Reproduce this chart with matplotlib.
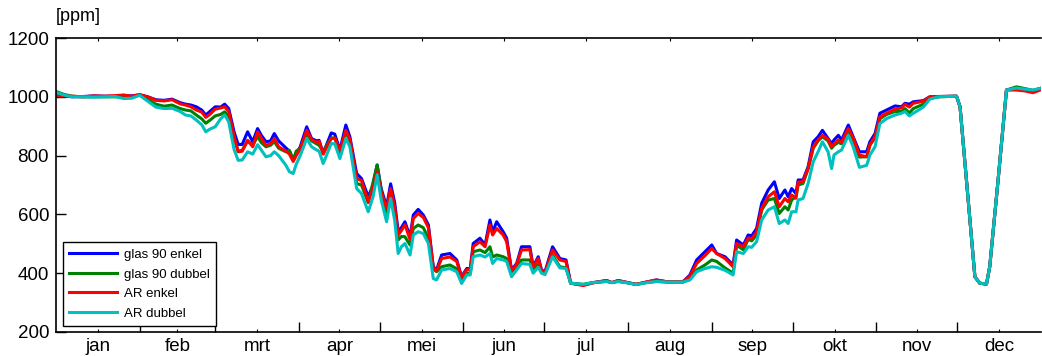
import numpy as np
from matplotlib import pyplot as plt

# dag van het jaar, CO2-concentratie per variant [ppm]
days = [0, 3, 6, 10, 14, 18, 22, 25, 28, 31, 34, 37, 40, 43, 46, 48, 50, 52, 54, 55.5,
        57, 59, 61, 62.5, 64, 66, 67.5, 69, 71, 72.9, 74.7, 76, 77.8, 79.5, 80.9, 82.5,
        85.2, 86.5, 87.9, 89, 90.5, 92.9, 94.7, 96.6, 97.5, 99, 102, 103.3, 105.2, 107.4,
        108.9, 111.4, 113.2, 115.7, 117.5, 119, 120.5, 122.5, 124, 125.5, 126.8, 128, 129.3,
        131.2, 132.4, 134.2, 136.1, 138, 139.8, 141, 142.9, 146, 148.5, 150.3, 152.2, 153.5,
        154.6, 157.1, 159, 160.8, 161.8, 163.3, 165.7, 167, 168.8, 170.7, 172.5, 175.6, 176.8,
        178.7, 179.9, 181.2, 184, 186.7, 189, 190.7, 195.4, 199, 204, 206, 208.3, 212, 215,
        218.8, 222.5, 226.3, 232.4, 234.9, 237.4, 240.5, 243, 244.8, 247.9, 250.9, 252.2,
        254.7, 256.5, 257.8, 259.6, 261.5, 263.9, 266.2, 268, 270.1, 271.3, 272.6, 274.2,
        275, 276.8, 278.7, 280.6, 282.4, 284, 286.1, 287.4, 288.3, 289.9, 291.1, 293.6,
        295.4, 297.7, 300.4, 301.6, 303.5, 305.3, 307.8, 310.9, 313.3, 314.6, 316.2, 317.7,
        321.4, 323.8, 327, 333.7, 335, 340.5, 342.3, 344.8, 346, 349.1, 352.2, 355.9, 359,
        362, 365]

glas90_enkel = [1008, 1003, 1000, 1001, 1003, 1002, 1002, 1005, 1003, 1007, 1000, 990, 988, 992,
                980, 975, 972, 966, 955, 938, 950, 966, 965, 975, 960, 880, 838, 838, 881, 847,
                892, 870, 847, 850, 875, 850, 826, 815, 785, 805, 830, 898, 858, 850, 852, 808,
                877, 873, 819, 904, 864, 739, 722, 660, 700, 768, 688, 626, 704, 640, 542, 555,
                575, 524, 598, 617, 598, 564, 422, 411, 462, 467, 445, 388, 416, 415, 501, 519,
                496, 581, 540, 575, 541, 519, 411, 433, 490, 490, 422, 456, 411, 405, 490, 450,
                445, 366, 360, 368, 375, 368, 375, 368, 362, 370, 377, 371, 371, 394, 445, 473,
                496, 467, 456, 428, 513, 496, 530, 527, 552, 638, 683, 711, 654, 683, 660, 688,
                671, 717, 717, 762, 847, 864, 886, 858, 841, 853, 869, 853, 904, 864, 813, 813,
                847, 875, 944, 955, 969, 966, 978, 975, 983, 987, 1000, 1001, 1002, 966, 388,
                366, 363, 422, 717, 1023, 1030, 1025, 1020, 1029]

glas90_dubbel = [1018, 1008, 1002, 1000, 1000, 1000, 1000, 1000, 998, 1006, 992, 975, 968, 972,
                 960, 955, 952, 938, 925, 910, 920, 935, 940, 949, 935, 860, 815, 818, 850, 835,
                 865, 845, 830, 835, 848, 825, 813, 818, 785, 815, 825, 875, 850, 840, 835, 815,
                 860, 860, 810, 880, 850, 705, 700, 640, 710, 768, 680, 605, 670, 610, 513, 525,
                 524, 496, 552, 564, 555, 519, 415, 405, 422, 428, 415, 375, 400, 400, 473, 479,
                 470, 490, 455, 462, 456, 450, 405, 420, 445, 445, 415, 430, 405, 400, 462, 422,
                 418, 366, 362, 368, 372, 368, 372, 367, 362, 368, 372, 370, 370, 380, 411, 428,
                 445, 440, 418, 400, 495, 480, 515, 510, 530, 615, 649, 654, 603, 626, 615, 649,
                 660, 700, 705, 755, 825, 850, 864, 850, 825, 835, 845, 840, 886, 855, 795, 796,
                 836, 860, 925, 940, 950, 950, 960, 945, 960, 975, 995, 1000, 1002, 966, 388,
                 366, 363, 422, 717, 1023, 1034, 1028, 1022, 1029]

ar_enkel = [1005, 1003, 1002, 1000, 1003, 1002, 1004, 1006, 1002, 1007, 1000, 988, 986, 990,
            976, 972, 966, 955, 948, 930, 940, 958, 962, 966, 950, 865, 813, 815, 852, 830,
            881, 860, 835, 840, 858, 830, 815, 805, 780, 800, 822, 886, 855, 845, 848, 805,
            858, 860, 815, 886, 855, 722, 715, 643, 690, 745, 675, 620, 688, 625, 530, 545,
            565, 515, 586, 603, 590, 555, 418, 408, 450, 455, 440, 385, 412, 412, 490, 507,
            490, 564, 530, 552, 530, 507, 408, 430, 479, 480, 420, 450, 408, 402, 479, 445,
            440, 366, 358, 367, 375, 368, 375, 368, 362, 370, 377, 371, 372, 390, 433, 460,
            484, 467, 450, 422, 501, 490, 520, 517, 540, 620, 660, 677, 626, 654, 643, 666,
            655, 710, 712, 755, 830, 853, 869, 855, 830, 840, 853, 845, 892, 860, 802, 796,
            836, 865, 932, 944, 958, 962, 975, 965, 978, 985, 1000, 1001, 1002, 966, 388,
            366, 363, 422, 717, 1023, 1023, 1020, 1014, 1024]

ar_dubbel = [1015, 1006, 1000, 1000, 999, 1000, 1001, 994, 995, 1005, 985, 965, 960, 961,
             950, 938, 935, 921, 905, 881, 890, 898, 925, 938, 915, 820, 784, 785, 813, 805,
             837, 820, 796, 800, 813, 800, 767, 745, 739, 770, 800, 858, 830, 819, 815, 773,
             841, 840, 790, 858, 830, 688, 671, 609, 660, 735, 650, 575, 654, 580, 467, 490,
             501, 462, 530, 541, 535, 501, 382, 377, 411, 416, 405, 365, 394, 394, 456, 462,
             455, 467, 433, 450, 445, 440, 388, 411, 433, 430, 400, 420, 400, 395, 456, 418,
             416, 366, 362, 368, 372, 368, 372, 367, 361, 368, 372, 370, 370, 377, 405, 416,
             422, 420, 410, 394, 473, 467, 490, 488, 507, 581, 615, 626, 569, 581, 569, 609,
             609, 649, 654, 705, 779, 813, 847, 813, 756, 802, 813, 819, 869, 830, 760, 767,
             802, 830, 909, 926, 938, 944, 950, 935, 944, 965, 992, 1000, 1002, 966, 388,
             366, 363, 422, 717, 1023, 1030, 1026, 1023, 1029]

series_names = ["glas 90 enkel", "glas 90 dubbel", "AR enkel", "AR dubbel"]
month_labels = ["jan", "feb", "mrt", "apr", "mei", "jun", "jul", "aug", "sep", "okt", "nov", "dec"]
month_starts = [0, 31, 59, 90, 120, 151, 181, 212, 243, 273, 304, 334, 365]


def co2_chart():
    plt.rcParams["font.family"] = ["Liberation Sans", "DejaVu Sans"]
    fig = plt.figure(figsize=(10.42, 3.56), dpi=100)
    ax = fig.add_axes([56 / 1042, 24 / 356, 985 / 1042, 294 / 356])

    colors = ["#0000ff", "#008000", "#ff0000", "#00c0c0"]
    values = [glas90_enkel, glas90_dubbel, ar_enkel, ar_dubbel]
    for name, vals, c in zip(series_names, values, colors):
        ax.plot(days, vals, color=c, lw=2.2, label=name)

    ax.set_xlim(0, 365)
    ax.set_ylim(200, 1200)
    ax.set_yticks(np.arange(200, 1201, 200))

    # maandgrenzen als grote streepjes, labels in het midden van de maand
    centers = [(a + b) / 2 for a, b in zip(month_starts[:-1], month_starts[1:])]
    ax.set_xticks(month_starts[1:-1])
    ax.set_xticklabels([])
    ax.set_xticks(centers, minor=True)
    ax.set_xticklabels(month_labels, minor=True)

    ax.tick_params(axis="x", which="major", direction="in", length=7.5, width=1,
                   top=False, bottom=True)
    ax.tick_params(axis="x", which="minor", direction="in", length=2, width=0.8,
                   top=True, bottom=True, labelsize=13.5, pad=4)
    ax.tick_params(axis="y", direction="in", length=7.5, width=1, labelsize=13.5, pad=5)

    ax.spines["right"].set_visible(False)
    for s in ["left", "top", "bottom"]:
        ax.spines[s].set_linewidth(1.2)

    ax.text(0, 1.045, "[ppm]", transform=ax.transAxes, fontsize=13, ha="left", va="bottom")

    leg = ax.legend(loc="lower left", bbox_to_anchor=(0.007, 0.02), borderaxespad=0,
                    fontsize=9.5, fancybox=False, framealpha=1, edgecolor="black",
                    handlelength=3.6, handletextpad=0.5, labelspacing=0.55, borderpad=0.5)
    leg.get_frame().set_linewidth(1.0)

    fig.savefig("out.png", dpi=100)


def main():
    co2_chart()


if __name__ == "__main__":
    main()
